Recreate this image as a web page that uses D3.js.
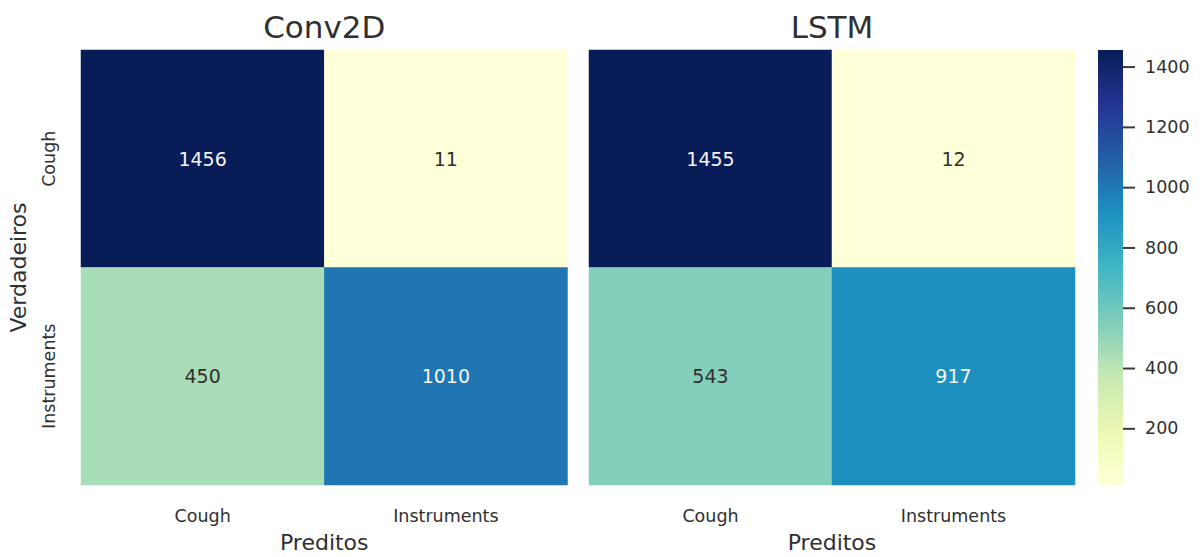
<!DOCTYPE html>
<html>
<head>
<meta charset="utf-8">
<script src="https://cdn.jsdelivr.net/npm/d3@7"></script>
<style>
  html, body { margin: 0; padding: 0; background: #fff; }
  svg { display: block; font-family: "DejaVu Sans", sans-serif; }
</style>
</head>
<body>
<svg id="chart" width="1200" height="557"></svg>
<script>
// Confusion matrices for the two models (rows: true class, columns: predicted class)
const classes = ["Cough", "Instruments"];
const models = ["Conv2D", "LSTM"];
const conv2dValues = [[1456, 11], [450, 1010]];
const lstmValues = [[1455, 12], [543, 917]];
const colorbarTicks = [200, 400, 600, 800, 1000, 1200, 1400];
const xAxisLabel = "Preditos";
const yAxisLabel = "Verdadeiros";

// ColorBrewer YlGnBu, linearly interpolated between the nine stops
const ylgnbu = ["#ffffd9", "#edf8b1", "#c7e9b4", "#7fcdbb", "#41b6c4",
                "#1d91c0", "#225ea8", "#253494", "#081d58"];

const textDark = "#303030";
const svg = d3.select("#chart");

const panels = [
  { title: models[0], values: conv2dValues, x0: 81, x1: 567.5 },
  { title: models[1], values: lstmValues, x0: 589, x1: 1075 }
];
const plotTop = 50, plotBottom = 485;

function makeColor(values) {
  const [lo, hi] = d3.extent(values.flat());
  const stops = ylgnbu.map((_, i) => lo + (hi - lo) * i / (ylgnbu.length - 1));
  return d3.scaleLinear().domain(stops).range(ylgnbu).interpolate(d3.interpolateRgb).clamp(true);
}

function luminance(c) {
  const rgb = d3.rgb(c);
  const lin = v => { v /= 255; return v <= 0.03928 ? v / 12.92 : Math.pow((v + 0.055) / 1.055, 2.4); };
  return 0.2126 * lin(rgb.r) + 0.7152 * lin(rgb.g) + 0.0722 * lin(rgb.b);
}

let lastColor = null;

panels.forEach((p, pi) => {
  const color = makeColor(p.values);
  lastColor = color;
  const x = d3.scaleBand().domain(classes).range([p.x0, p.x1]);
  const y = d3.scaleBand().domain(classes).range([plotTop, plotBottom]);
  const g = svg.append("g");

  const cells = [];
  p.values.forEach((row, ri) => row.forEach((v, ci) => cells.push({ r: classes[ri], c: classes[ci], v })));

  g.selectAll("rect.cell").data(cells).enter().append("rect")
    .attr("class", "cell")
    .attr("x", d => x(d.c))
    .attr("y", d => y(d.r))
    .attr("width", x.bandwidth())
    .attr("height", y.bandwidth())
    .attr("fill", d => color(d.v))
    .attr("stroke", d => color(d.v))
    .attr("stroke-width", 0.5);

  g.selectAll("text.annot").data(cells).enter().append("text")
    .attr("class", "annot")
    .attr("x", d => x(d.c) + x.bandwidth() / 2)
    .attr("y", d => y(d.r) + y.bandwidth() / 2)
    .attr("text-anchor", "middle")
    .attr("dominant-baseline", "central")
    .attr("font-size", 19)
    .attr("fill", d => luminance(color(d.v)) > 0.408 ? textDark : "#f4f4f4")
    .text(d => d.v);

  // x tick labels
  g.selectAll("text.xtick").data(classes).enter().append("text")
    .attr("class", "xtick")
    .attr("x", d => x(d) + x.bandwidth() / 2)
    .attr("y", 522)
    .attr("text-anchor", "middle")
    .attr("font-size", 17.5)
    .attr("fill", textDark)
    .text(d => d);

  // x axis label
  g.append("text")
    .attr("x", (p.x0 + p.x1) / 2)
    .attr("y", 550)
    .attr("text-anchor", "middle")
    .attr("font-size", 22)
    .attr("fill", textDark)
    .text(xAxisLabel);

  // title
  g.append("text")
    .attr("x", (p.x0 + p.x1) / 2)
    .attr("y", 38)
    .attr("text-anchor", "middle")
    .attr("font-size", 31)
    .attr("fill", textDark)
    .text(p.title);

  if (pi === 0) {
    g.selectAll("text.ytick").data(classes).enter().append("text")
      .attr("class", "ytick")
      .attr("transform", d => `translate(55,${y(d) + y.bandwidth() / 2}) rotate(-90)`)
      .attr("text-anchor", "middle")
      .attr("font-size", 17.5)
      .attr("fill", textDark)
      .text(d => d);

    g.append("text")
      .attr("transform", `translate(26,${(plotTop + plotBottom) / 2}) rotate(-90)`)
      .attr("text-anchor", "middle")
      .attr("font-size", 22)
      .attr("fill", textDark)
      .text(yAxisLabel);
  }
});

// colorbar for the right-hand matrix
const cbX = 1098, cbW = 25;
const cbDomain = d3.extent(lstmValues.flat());
const cbScale = d3.scaleLinear().domain(cbDomain).range([plotBottom, plotTop]);
const defs = svg.append("defs");
const grad = defs.append("linearGradient")
  .attr("id", "cbgrad").attr("x1", 0).attr("y1", 1).attr("x2", 0).attr("y2", 0);
d3.range(0, 1.0001, 0.02).forEach(t => {
  grad.append("stop")
    .attr("offset", t)
    .attr("stop-color", lastColor(cbDomain[0] + t * (cbDomain[1] - cbDomain[0])));
});
svg.append("rect")
  .attr("x", cbX).attr("y", plotTop)
  .attr("width", cbW).attr("height", plotBottom - plotTop)
  .attr("fill", "url(#cbgrad)");

const cbAxis = d3.axisRight(cbScale)
  .tickValues(colorbarTicks)
  .tickFormat(d3.format("d"))
  .tickSize(12)
  .tickPadding(10);
const cbG = svg.append("g")
  .attr("transform", `translate(${cbX + cbW},0)`)
  .call(cbAxis);
cbG.select(".domain").remove();
cbG.selectAll(".tick line").attr("stroke", "#3a3a3a").attr("stroke-width", 2);
cbG.selectAll(".tick text")
  .attr("font-size", 17.5)
  .attr("font-family", "DejaVu Sans, sans-serif")
  .attr("fill", textDark);
</script>
</body>
</html>
